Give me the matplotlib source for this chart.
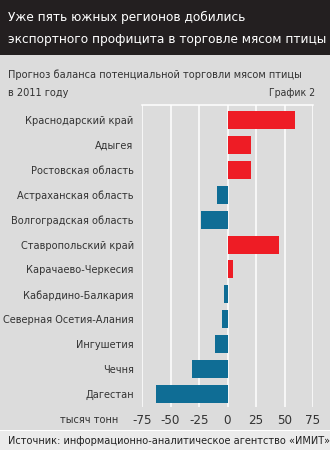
import matplotlib.pyplot as plt
from matplotlib.patches import Rectangle

regions = ['Краснодарский край', 'Адыгея', 'Ростовская область', 'Астраханская область',
           'Волгоградская область', 'Ставропольский край', 'Карачаево-Черкесия',
           'Кабардино-Балкария', 'Северная Осетия-Алания', 'Ингушетия', 'Чечня', 'Дагестан']
balance = [59, 21, 21, -9, -23, 45, 5, -3, -5, -11, -31, -63]
ticks = [-75, -50, -25, 0, 25, 50, 75]

title = 'Уже пять южных регионов добились\nэкспортного профицита в торговле мясом птицы'
subtitle_lines = ['Прогноз баланса потенциальной торговли мясом птицы', 'в 2011 году']
source = 'Источник: информационно-аналитическое агентство «ИМИТ»'

plt.rcParams['font.family'] = ['DejaVu Sans']
plt.rcParams['font.stretch'] = 'condensed'

fig = plt.figure(figsize=(3.3, 4.5), dpi=100)
fig.patch.set_facecolor('#dcdcdc')

# title band and source band
fig.patches.append(Rectangle((0, 1 - 55 / 450), 1, 55 / 450, transform=fig.transFigure,
                             facecolor='#231f20', edgecolor='none', zorder=0))
fig.patches.append(Rectangle((0, 0), 1, 19 / 450, transform=fig.transFigure,
                             facecolor='#ebebeb', edgecolor='none', zorder=0))
fig.patches.append(Rectangle((0, 19 / 450), 1, 1.5 / 450, transform=fig.transFigure,
                             facecolor='white', edgecolor='none', zorder=0))

fig.text(0.025, 1 - 28.5 / 450, title, color='white', fontsize=9.7, va='center',
         ha='left', linespacing=1.85)
fig.text(0.025, 1 - 75 / 450, subtitle_lines[0], color='#333333', fontsize=7.85,
         va='center', ha='left')
fig.text(0.025, 1 - 93 / 450, subtitle_lines[1], color='#333333', fontsize=7.85,
         va='center', ha='left')
fig.text(0.955, 1 - 93 / 450, 'График 2', color='#333333', fontsize=7.5, va='center', ha='right')
fig.text(0.025, 1 - 441 / 450, source, color='#222222', fontsize=7.8, va='center', ha='left')
fig.text(0.358, 1 - 420 / 450, 'тысяч тонн', color='#333333', fontsize=7.8, va='center', ha='right')

ax = fig.add_axes([142 / 330, 1 - 407 / 450, 171 / 330, 302 / 450])
ax.set_facecolor('#dcdcdc')
colors = ['#ee1c25' if v > 0 else '#0f6d95' for v in balance]
ax.barh(range(len(regions)), balance, height=0.72, color=colors, zorder=3)
ax.set_xlim(-75, 75)
ax.set_ylim(11.52, -0.6)
ax.set_xticks(ticks)
ax.set_xticklabels([str(t) for t in ticks])
ax.set_yticks(range(len(regions)))
ax.set_yticklabels(regions)
for t in ticks:
    ax.axvline(t, color='white', lw=1.1, zorder=1)
for name, s in ax.spines.items():
    if name == 'top':
        s.set_color('white')
        s.set_linewidth(1.1)
    else:
        s.set_visible(False)
ax.tick_params(axis='both', length=0, colors='#333333')
ax.tick_params(axis='x', labelsize=9.5, pad=5)
ax.tick_params(axis='y', labelsize=7.8, pad=6)

fig.savefig('out.png', dpi=100, facecolor=fig.get_facecolor())
